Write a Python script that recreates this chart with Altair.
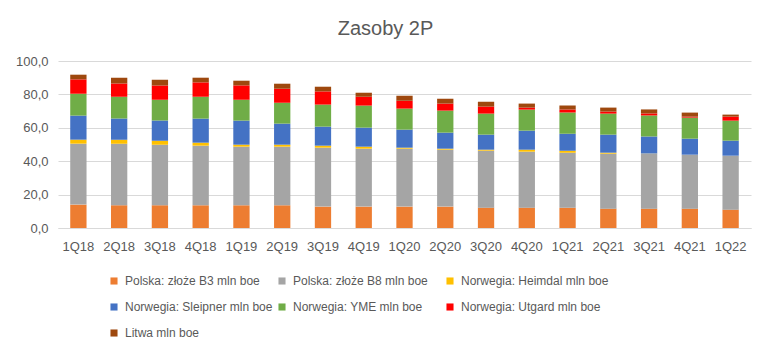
import altair as alt
import pandas as pd

quarters = ["1Q18", "2Q18", "3Q18", "4Q18", "1Q19", "2Q19", "3Q19", "4Q19", "1Q20",
            "2Q20", "3Q20", "4Q20", "1Q21", "2Q21", "3Q21", "4Q21", "1Q22"]

series = ["Polska: złoże B3 mln boe", "Polska: złoże B8  mln boe", "Norwegia: Heimdal mln boe",
          "Norwegia: Sleipner mln boe", "Norwegia: YME mln boe", "Norwegia: Utgard mln boe",
          "Litwa mln boe"]

colors = ["#ED7D31", "#A5A5A5", "#FFC000", "#4472C4", "#70AD47", "#FF0000", "#9E480E"]

b3 = [14.0, 13.6, 13.6, 13.6, 13.6, 13.6, 12.8, 12.8, 12.8, 12.8, 12.2, 12.2, 12.2, 11.6, 11.6, 11.6, 11.0]
b8 = [36.5, 36.9, 36.3, 35.7, 35.1, 35.1, 35.3, 34.7, 34.7, 34.1, 34.1, 33.5, 32.9, 32.9, 32.9, 32.3, 32.3]
heimdal = [2.4, 2.4, 2.4, 1.8, 1.2, 1.2, 1.2, 1.2, 0.6, 0.6, 0.6, 1.2, 1.2, 0.6, 0.1, 0.0, 0.0]
sleipner = [14.4, 12.6, 12.0, 14.4, 14.4, 12.6, 11.4, 11.4, 10.8, 9.6, 9.0, 11.4, 10.2, 10.8, 10.2, 9.6, 9.0]
yme = [13.1, 13.1, 12.5, 13.1, 12.5, 12.5, 13.2, 13.2, 12.6, 13.2, 12.6, 12.6, 12.6, 12.6, 12.6, 12.6, 12.0]
utgard = [8.6, 8.0, 8.6, 8.6, 8.6, 8.4, 7.9, 5.3, 4.7, 4.2, 4.2, 1.2, 1.8, 1.2, 1.2, 0.6, 2.4]
litwa = [2.8, 3.4, 3.4, 2.8, 2.8, 3.0, 2.8, 2.4, 3.0, 2.9, 2.9, 2.4, 2.4, 2.4, 2.4, 2.4, 1.2]

values = [b3, b8, heimdal, sleipner, yme, utgard, litwa]

rows = []
for si, (name, vals) in enumerate(zip(series, values)):
    for q, v in zip(quarters, vals):
        rows.append({"kwartal": q, "seria": name, "wartosc": v, "kolejnosc": si})
df = pd.DataFrame(rows)

FONT = "Liberation Sans"
GREY = "#595959"

chart = alt.Chart(df).mark_bar().encode(
    x=alt.X("kwartal:N", sort=quarters, title=None,
            scale=alt.Scale(paddingInner=0.6, paddingOuter=0.3),
            axis=alt.Axis(labelAngle=0, ticks=False, domainColor="#d9d9d9",
                          labelColor=GREY, labelFontSize=13, labelFont=FONT, labelPadding=12)),
    y=alt.Y("wartosc:Q", stack="zero", title=None,
            scale=alt.Scale(domain=[0, 100], nice=False),
            axis=alt.Axis(values=[0, 20, 40, 60, 80, 100], domain=False, ticks=False,
                          gridColor="#d9d9d9", labelColor=GREY, labelFontSize=13,
                          labelFont=FONT, labelPadding=10,
                          labelExpr="replace(format(datum.value, '.1f'), '.', ',')")),
    color=alt.Color("seria:N", scale=alt.Scale(domain=series, range=colors), title=None,
                    legend=alt.Legend(orient="none", legendX=50, legendY=214, direction="horizontal",
                                      columns=3, gridAlign="all", symbolType="square", symbolSize=50,
                                      symbolStrokeWidth=0, labelFontSize=12, labelFont=FONT,
                                      labelColor=GREY, rowPadding=14, columnPadding=3,
                                      labelOffset=5, labelLimit=300)),
    order=alt.Order("kolejnosc:Q", sort="ascending"),
    tooltip=["kwartal", "seria", "wartosc"],
).properties(
    width=693, height=167,
    autosize=alt.AutoSizeParams(type="none"),
    padding={"left": 50, "top": 53, "right": 11, "bottom": 124},
    title=alt.TitleParams("Zasoby 2P", fontSize=20, color=GREY, font=FONT, fontWeight="normal",
                          offset=16, dx=-19),
).configure_view(stroke=None)

chart.save("out.html", embed_options={"renderer": "svg", "actions": False})
